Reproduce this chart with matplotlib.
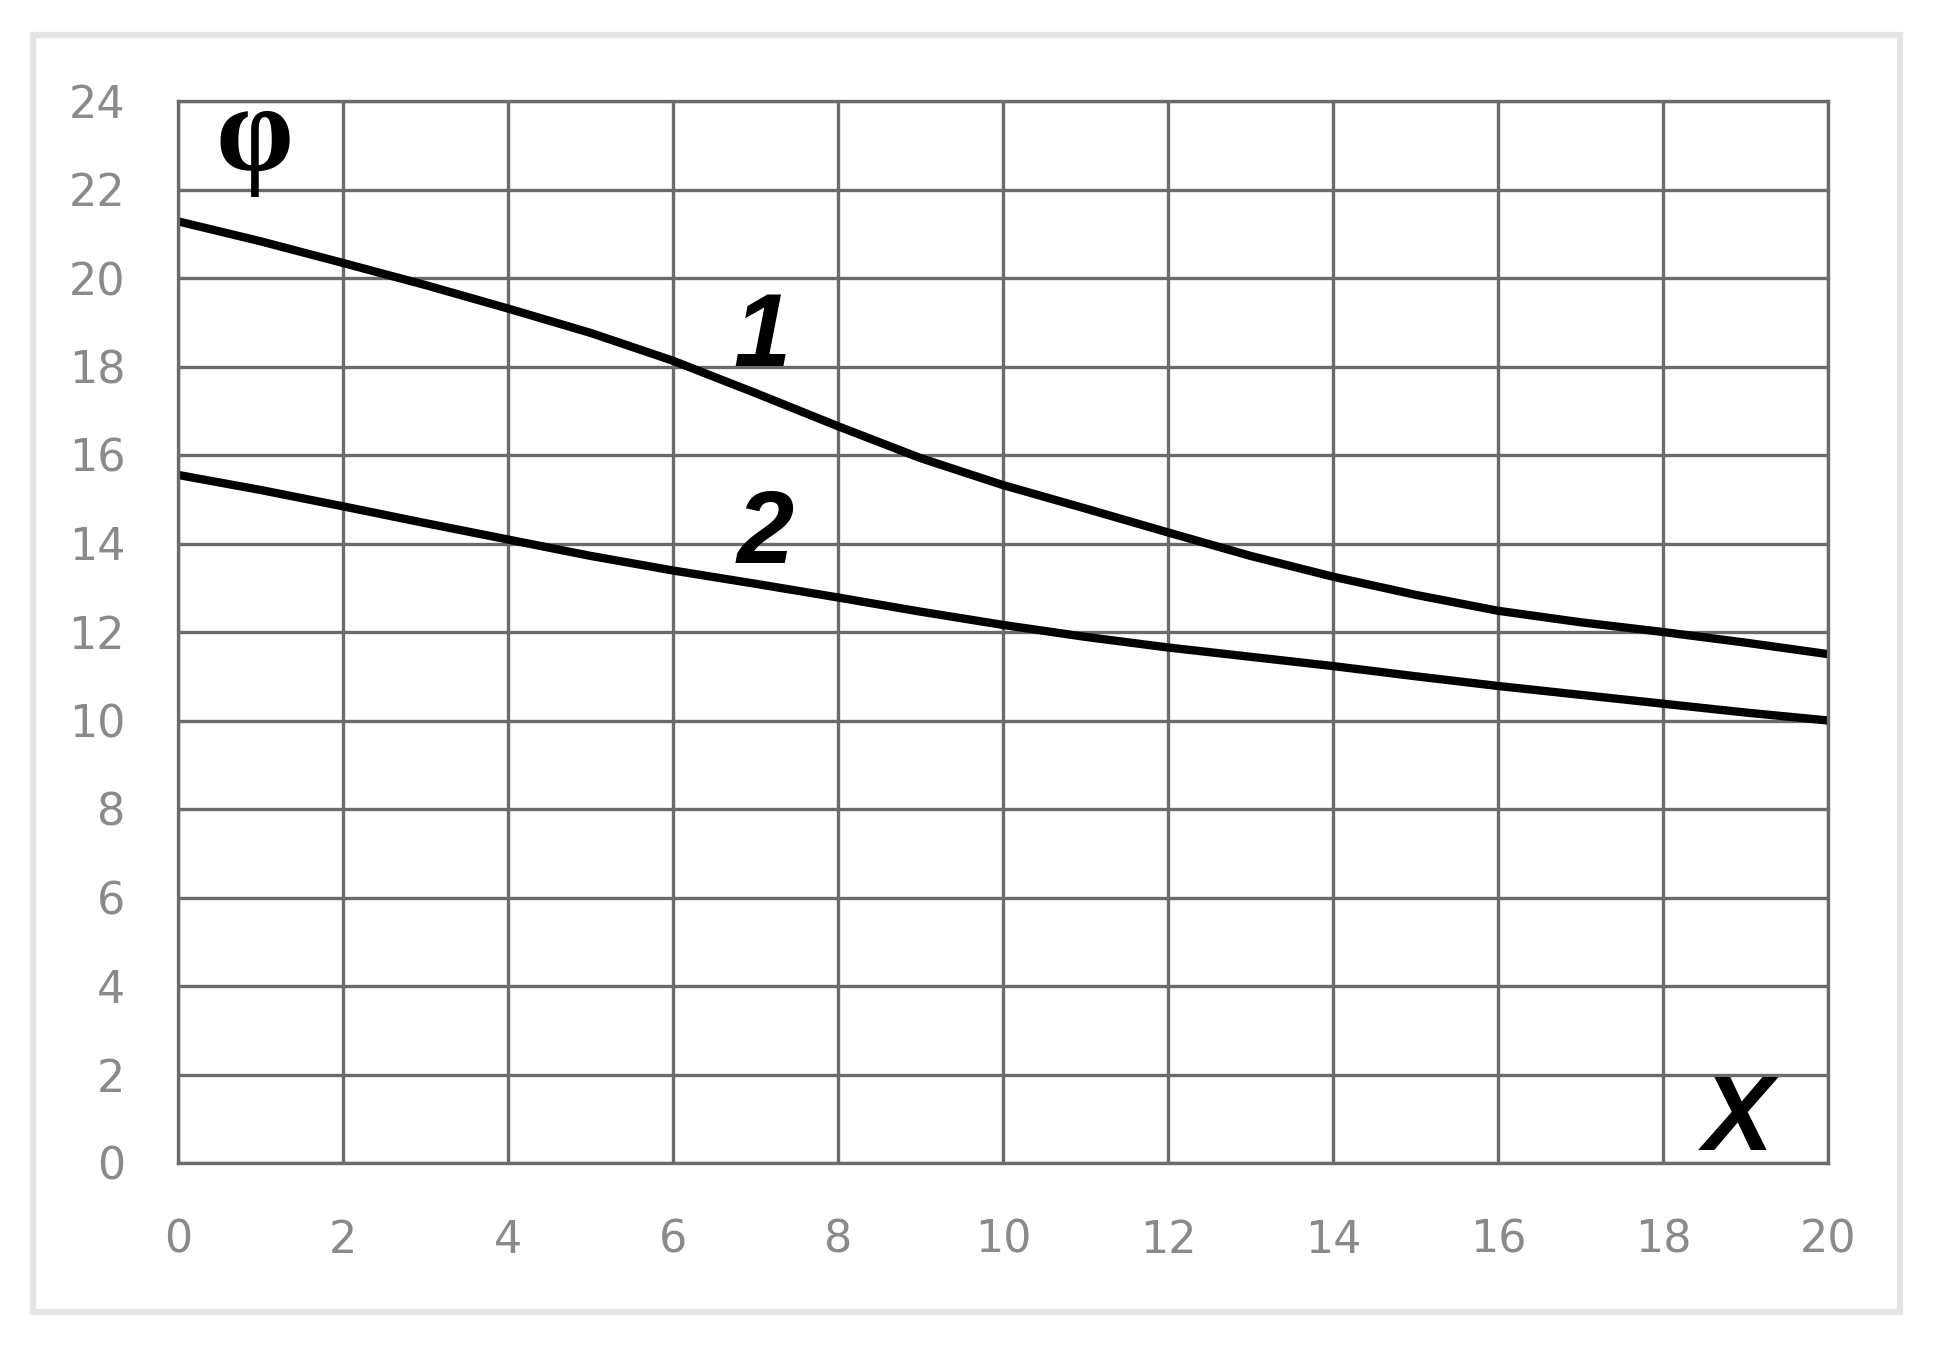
import matplotlib
matplotlib.use("Agg")
import matplotlib.pyplot as plt
from matplotlib.patches import Rectangle

# ---- data ----
x_vals = [0, 1, 2, 3, 4, 5, 6, 7, 8, 9, 10, 11, 12, 13, 14, 15, 16, 17, 18, 19, 20]
curve1 = [21.28, 20.83, 20.34, 19.84, 19.31, 18.76, 18.13, 17.40, 16.65, 15.93, 15.32,
          14.79, 14.25, 13.72, 13.25, 12.84, 12.48, 12.22, 12.00, 11.76, 11.50]
curve2 = [15.55, 15.21, 14.84, 14.46, 14.09, 13.72, 13.39, 13.09, 12.78, 12.46, 12.16,
          11.89, 11.65, 11.44, 11.23, 11.00, 10.78, 10.58, 10.38, 10.18, 10.00]
x_ticks = [0, 2, 4, 6, 8, 10, 12, 14, 16, 18, 20]
y_ticks = [0, 2, 4, 6, 8, 10, 12, 14, 16, 18, 20, 22, 24]
curve_labels = ["1", "2"]
x_axis_label = "X"
y_axis_label = "φ"

W, H = 1948, 1364
fig = plt.figure(figsize=(W / 100, H / 100), dpi=100)
fig.patch.set_facecolor("white")

# outer light frame
fig.patches.append(Rectangle((33 / W, 1 - 1312 / H), (1900 - 33) / W, (1312 - 35) / H,
                             transform=fig.transFigure, fill=False,
                             edgecolor="#e4e4e4", linewidth=4.5))

ax = fig.add_axes([178 / W, 1 - 1163 / H, (1828 - 178) / W, (1163 - 101) / H])
ax.set_xlim(0, 20)
ax.set_ylim(0, 24)
ax.set_xticks(x_ticks)
ax.set_yticks(y_ticks)
ax.set_xticklabels([str(v) for v in x_ticks])
ax.set_yticklabels([str(v) for v in y_ticks])

grid_color = "#6b6b6b"
ax.grid(True, color=grid_color, linewidth=2.4)
ax.set_axisbelow(True)
for s in ax.spines.values():
    s.set_color(grid_color)
    s.set_linewidth(2.4)

ax.tick_params(axis="both", length=0, labelsize=32, labelcolor="#8a8a8a")
ax.tick_params(axis="y", pad=38)
ax.tick_params(axis="x", pad=40)
for lab in ax.get_xticklabels() + ax.get_yticklabels():
    lab.set_family("DejaVu Sans")

ax.plot(x_vals, curve1, color="black", linewidth=6, solid_joinstyle="round",
        solid_capstyle="butt", clip_on=True)
ax.plot(x_vals, curve2, color="black", linewidth=6, solid_joinstyle="round",
        solid_capstyle="butt", clip_on=True)

ax.text(7.08, 18.6, curve_labels[0], fontsize=74, fontweight="bold", fontstyle="italic",
        family="Liberation Sans", ha="center", va="center", color="black")
ax.text(7.12, 14.15, curve_labels[1], fontsize=74, fontweight="bold", fontstyle="italic",
        family="Liberation Sans", ha="center", va="center", color="black")
ax.text(0.93, 22.45, y_axis_label, fontsize=90, fontweight="bold",
        family="Liberation Serif", ha="center", va="baseline", color="black")
ax.text(18.91, 0.91, x_axis_label, fontsize=76, fontweight="bold", fontstyle="italic",
        family="Liberation Sans", ha="center", va="center", color="black")

fig.savefig("out.png", dpi=100, facecolor="white")
